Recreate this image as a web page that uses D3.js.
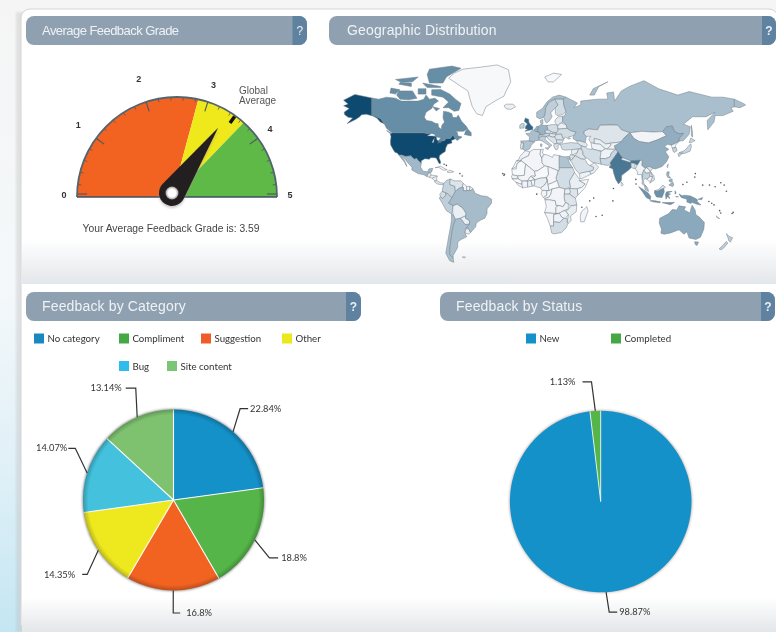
<!DOCTYPE html>
<html><head><meta charset="utf-8">
<script src="https://cdn.jsdelivr.net/npm/d3@7/dist/d3.min.js"></script>
<style>html,body{margin:0;padding:0;background:#f4f4f4;overflow:hidden}svg{display:block;filter:blur(.35px)}</style>
</head><body><svg id="c" width="776" height="632"></svg>
<script>
// ---------- DATA ----------
const panelTitles = ["Average Feedback Grade","Geographic Distribution","Feedback by Category","Feedback by Status"];
const gaugeTicks = [0,1,2,3,4,5];
const gaugeBandEdges = [0,2.92,3.72,5];
const gaugeBandColors = ["#f26322","#efe81a","#5fb946"];
const feedbackGrade = 3.59;
const globalAverage = 3.49;
const categoryNames = ["No category","Compliment","Suggestion","Other","Bug","Site content"];
const categoryValues = [22.84,18.8,16.8,14.35,14.07,13.14];
const categoryColors = ["#1591c9","#55b548","#f26322","#eee81f","#44c2dd","#7ec26f"];
const categoryLegendColors = ["#1a88c0","#45a844","#f15a29","#ebe81c","#2fbcec","#7cc576"];
const statusNames = ["New","Completed"];
const statusLabels = [98.87,1.13];
const statusDrawnShare = [98.11,1.89];
const statusColors = ["#1591c9","#55b548"];
const countryNames = ["USA","Alaska","Canada","Baffin","Victoria","Banks","Ellesmere","Devon","Melville","Somerset","QueenE","Newfoundland","Southampton","Vancouver","Greenland","Iceland","Mexico","Baja","Guatemala","Honduras","Nicaragua","Panama","Cuba","Hispaniola","Colombia","Venezuela","Guyana","Suriname","FrGuiana","Ecuador","Peru","Bolivia","Paraguay","Chile","Argentina","Uruguay","Brazil","Falkland","Morocco","WSahara","Algeria","Tunisia","Libya","Egypt","Sudan","Mauritania","Mali","Niger","Chad","Senegal","Guinea","Liberia","IvoryCoast","Burkina","Ghana","Benin","Nigeria","Cameroon","CAR","Gabon","Congo","DRC","Uganda","Kenya","Ethiopia","Somalia","Tanzania","Angola","Zambia","Mozambique","Zimbabwe","Namibia","Botswana","SouthAfrica","Madagascar","Portugal","Spain","France","Benelux","Germany","Denmark","UK","Ireland","Italy","Sicily","Sardinia","Austria","Czech","Poland","Hungary","Balkans","Romania","Bulgaria","Greece","Belarus","Ukraine","Baltics","Norway","Sweden","Finland","Russia","Chukotka","Sakhalin","NovayaZemlya","Svalbard","Kazakhstan","Mongolia","China","NKorea","SKorea","Honshu","Hokkaido","Kyushu","Taiwan","Turkmenistan","Uzbekistan","Kyrgyzstan","Afghanistan","Pakistan","India","Nepal","Bangladesh","SriLanka","Burma","Thailand","Laos","Vietnam","Cambodia","Malaya","Sarawak","Kalimantan","Sumatra","Java","Sulawesi","Sunda","Moluccas","Seram","WPapua","PNG","NewBritain","Luzon","Mindanao","Visayas","Turkey","Caucasus","Syria","Iraq","Iran","Jordan","Saudi","Yemen","Oman","Australia","Tasmania","NZNorth","NZSouth","NewCaledonia"];
const countryShades = [1,1,.62,.62,.62,.62,.62,.62,.62,.62,.62,.62,.62,.62,0,.05,.35,.35,.05,.05,.05,.1,.02,.05,.2,.1,.02,.02,.02,.15,.22,.05,.05,.3,.3,.05,.32,0,.03,0,.02,.02,.03,.28,.14,0,.02,0,.02,.03,0,0,.03,0,.05,0,.06,.03,0,.02,0,.02,.06,.1,.05,0,.1,.02,.03,.06,.03,.02,.03,.14,.02,.1,.28,.3,.4,.38,.25,.85,.2,.22,.22,.22,.18,.12,.14,.1,.1,.12,.1,.12,.05,.15,.08,.3,.22,.15,.3,.3,.3,.3,0,.1,.02,.42,0,.2,.18,.18,.18,.12,.03,.05,.02,.03,.17,.75,.03,.12,.05,.03,.2,.02,.1,.02,.3,.12,.6,.6,.6,.6,.6,.6,.6,.55,.55,.55,.35,.35,.35,.15,.08,.05,.1,.14,.12,.12,.03,.06,.45,.45,.22,.22,.05];
const countryOutlines = [
"-124.7,48.4 -123,49 -95,49 -89.5,48 -84.5,46.5 -82.5,45.3 -82.4,43 -79,43.2 -76.5,44 -75,45 -71.5,45 -69.2,47.4 -67.8,45.7 -67,44.8 -70.5,43.5 -70,41.7 -74,40.7 -75.5,38 -76,35.2 -78.5,33.8 -81,32 -81.4,30 -80,26.8 -80.5,25.2 -81.8,26 -82.8,28 -84,30 -86,30.3 -89,30.3 -90,29.1 -94,29.5 -97.2,27.8 -97.2,25.9 -99.5,27.5 -101.5,29.8 -103,29 -104.7,30 -106.5,31.8 -111,31.3 -114.8,32.5 -117.1,32.5 -118.5,34 -120.6,34.6 -122.4,37.2 -124.3,40.3 -124.5,43 -124,46.3",
"-156,71.3 -166,68.5 -162,66.5 -166,65.5 -161,64 -165.5,62 -165,60.5 -162,59 -158,58.5 -163,55 -155,57.8 -152,59.2 -150,60.5 -146,60.8 -140,59.8 -136.5,58.5 -133.5,56 -130,55 -133,58 -137,59.5 -141,60.3 -141,69.6",
"-141,69.6 -135,69 -128,70 -120,69.5 -115,68 -108,68 -100,68 -95,69 -93,71 -90,69 -85,69.5 -82,68 -86,66.5 -88,64 -93,62 -94.5,59 -92.5,57 -88,56.5 -85,55.3 -82.3,55 -82,52.8 -79.5,51.3 -79,54 -76.7,56 -78,58.7 -77.5,62.5 -73,62 -70,61 -69.5,59 -66,58.8 -64.5,60.3 -61.5,56.5 -57,53 -56,51.5 -60,50 -66.5,50 -65,48.8 -65,47 -61,46 -65.5,43.5 -67,44.8 -67.8,45.7 -69.2,47.4 -71.5,45 -75,45 -76.5,44 -79,43.2 -82.4,43 -82.5,45.3 -84.5,46.5 -89.5,48 -95,49 -123,49 -125,50 -128,52 -130,55 -133,58 -137,59.5 -141,60.3",
"-80,73.7 -72,71.5 -67,69 -62,66.8 -64,63 -68,62.5 -73,64.5 -78,64.5 -73,67.5 -78,70 -88,71 -88,73.5",
"-117,73 -105,73 -101,69.5 -108,68.7 -116,69 -119,71",
"-125,72 -124,74.3 -116,73.5 -120,71.5",
"-90,76.5 -78,76.5 -75,79 -62,82.3 -70,83.1 -90,82 -92,80",
"-96,76.5 -80,75 -80,74.5 -92,74.5",
"-117,76 -106,75 -106,76.5 -116,76.7",
"-100,74 -93,74 -93,71.5 -100,71.5",
"-120,78 -110,78.5 -100,79 -105,77 -115,76.8",
"-59,47.8 -53,46.8 -53,49 -56,51.5 -58,50",
"-87,65 -81,64 -84,62.7",
"-128,50.5 -123.5,48.5 -125,48.7",
"-73,78.5 -68,80.5 -60,82 -45,82.7 -30,83.5 -20,81.8 -18,77 -22,73 -24,70.5 -32,68 -40,65 -43,60 -48,61 -52,65 -54,69 -56,73 -65,76",
"-24,65.5 -22,66.4 -16,66.4 -13.7,65 -18,63.5 -22,63.9",
"-114.8,32.5 -111,31.3 -106.5,31.8 -104.7,30 -103,29 -101.5,29.8 -99.5,27.5 -97.2,25.9 -97.8,22.5 -95.5,19 -91.5,18.5 -90.5,21 -87,21.5 -88,18.5 -89,17.8 -91,17.2 -92.2,14.5 -95,16 -100,17 -105.5,20 -105.5,22.5 -109.5,26.5 -112.5,30",
"-117.1,32.5 -115,30 -112,26.5 -110,23 -111,26 -113.5,30 -114.7,31.7",
"-92.2,14.5 -91,17.2 -89,17.8 -88.5,15.8 -90,13.8",
"-88.5,15.8 -83.2,15 -84.5,13 -87.5,13 -90,13.8",
"-83.2,15 -83.7,11 -85.7,11 -87.5,13",
"-83.7,11 -80,9 -77.3,8.6 -78,7.3 -80.5,7.5 -83,8 -85.7,10",
"-85,22 -80,23.2 -74.2,20.2 -77.7,19.9 -82,22.5",
"-74.4,18.4 -72,20 -68.4,18.6 -71.5,17.8",
"-77.3,8.6 -75,11 -71.5,12.4 -72,7.5 -67.5,6 -67,1.5 -70,-4.2 -74,-0.5 -78.8,1.4",
"-71.5,12.4 -68,10.7 -62,10.7 -60,8.5 -61,5 -64,4 -67,1.5 -67.5,6 -72,7.5",
"-60,8.5 -57,6 -57,2 -60,2 -60,5 -61,5",
"-57,6 -54,5.8 -54.5,2.3 -57,2",
"-54,5.8 -51.7,4 -53,2.2 -54.5,2.3",
"-78.8,1.4 -75.3,0 -75.5,-2 -78.3,-5 -80.3,-3.4 -80.8,-1",
"-81.3,-4.5 -80.3,-3.4 -78.3,-5 -75.5,-2 -75.3,0 -74,-0.5 -70,-4.2 -73,-9 -69,-11 -69.5,-16 -70.4,-18.3 -75,-15.5 -78,-10",
"-69,-11 -65.3,-9.8 -60.2,-13.5 -57.5,-18 -58,-20 -62.5,-22 -67,-23 -69,-19 -69.5,-16",
"-58,-20 -58,-22 -54.5,-24 -54.6,-27 -58.5,-27.2 -62.5,-22",
"-70.4,-18.3 -69,-19 -67,-23 -68.5,-27 -70,-33 -71,-40 -71.8,-45 -72,-50 -69,-52 -68.5,-55 -72,-54 -75.5,-49 -74,-42 -73,-37 -71.5,-30 -70.5,-24",
"-67,-23 -62.5,-22 -58.5,-27.2 -54.6,-27 -58,-31 -58.4,-34 -57,-37 -62,-39 -65,-41 -65,-45 -69,-50.5 -69,-52 -72,-50 -71.8,-45 -71,-40 -70,-33 -68.5,-27",
"-58,-31 -55.5,-30.5 -53.5,-33.7 -55,-35 -58.4,-34",
"-60,5 -60,2 -57,2 -54.5,2.3 -53,2.2 -51.7,4 -50,1 -50,0 -44,-2.5 -39,-3 -35,-5.5 -35,-9 -39,-14 -39,-18 -41,-22 -45,-23.7 -48.5,-26 -49,-29 -53.5,-33.7 -55.5,-30.5 -57.6,-30 -54.6,-27 -54.5,-24 -58,-22 -58,-20 -57.5,-18 -60.2,-13.5 -65.3,-9.8 -69,-11 -73,-9 -70,-4.2 -67,1.5 -64,4 -61,5",
"-61,-51.5 -58,-51.5 -59,-52.3",
"-13,27.7 -8.7,27.7 -8.7,29 -2,32 -1.2,35 -5.5,35.9 -7,34 -9.8,31.5 -11,28.7",
"-13,27.7 -8.7,27.7 -12,26 -13,23 -17,21 -15,24",
"-8.7,27.7 -8.7,29 -2,32 -1.2,35 2,36.8 8.6,36.9 8,33 9.5,30 9.8,26 12,23.5 6,19.5 3,19 -4.8,25",
"8.6,36.9 11,37 10,34 11.5,33 9.5,30 8,33",
"11.5,33 15,32.3 19,30.5 20,32.8 25,32 25,20 24,19.5 15,23 12,23.5 9.8,26 9.5,30",
"25,32 29,31 34.2,31.3 35,28 32.5,30 34,26 36.9,22 25,22",
"25,22 36.9,22 38.5,18 36.5,14.5 34,10.5 35,5 30,3.5 25,5 23.5,9 22,13 24,19.5 25,20",
"-17,21 -13,21 -13,23 -12,26 -8.7,27.7 -4.8,25 -6,15.5 -12,15 -16.5,16",
"-4.8,25 3,19 4,15 0,15 -3,11 -8,10.5 -11.5,12.5 -12,15 -6,15.5",
"3,19 6,19.5 12,23.5 15,23 15.5,16 13.5,13.5 8,13 3.5,11.7 1,13.5 4,15",
"15,23 24,19.5 22,13 23,11 19,9 15,7.5 13.5,13.5 15.5,16",
"-16.5,16 -12,15 -11.5,12.5 -16.8,12.5 -17.3,14.7",
"-16.8,12.5 -11.5,12.5 -8,10.5 -8,7.7 -10.5,8.3 -13.3,9.5",
"-13.3,9.5 -10.5,8.3 -8,7.7 -7.5,4.5 -11.5,6.9",
"-8,10.5 -3,10.5 -3,5.2 -7.5,4.5 -8,7.7",
"-3,10.5 -3,11 0,15 1,13.5 3.5,11.7 0,11",
"-3,10.5 0,11 1.2,6 -3,5.2",
"0,11 3.5,11.7 2.7,6.3 1.2,6",
"2.7,6.3 3.5,11.7 8,13 13.5,13.5 14.5,11 12,7 8.5,4.5 5,5.5",
"8.5,4.5 12,7 14.5,11 13.5,13.5 15,7.5 16,2 9.8,2.3",
"15,7.5 19,9 23,11 25,5 18.5,3.5 16,2",
"9.8,2.3 14,2.2 14,-2 11,-4 8.8,-1",
"14,2.2 16,2 18.5,3.5 17.5,-1 16,-3.5 12,-5 11,-4 14,-2",
"18.5,3.5 25,5 30,3.5 29.5,-1 29.5,-5 30.5,-8.5 28.5,-12 24,-11 22,-11 21.5,-7 16,-6 12.3,-6 12,-5 16,-3.5 17.5,-1",
"30,3.5 34,4 35,1 34,-1 29.5,-1",
"34,4 41,3.8 41.5,-1.7 39.3,-4.7 34,-1 35,1",
"36.5,14.5 38.5,18 43,12 42.5,11 48,8 45,5 41,3.8 34,4 35,5 34,10.5",
"43,11 51,12 48,5 42,-1.5 41.5,-1.7 41,3.8 45,5 48,8",
"29.5,-1 34,-1 39.3,-4.7 40.5,-10.5 35,-11.5 32,-9 30.5,-8.5 29.5,-5",
"12.3,-6 16,-6 21.5,-7 22,-11 24,-11 22,-13 22,-18 12,-17.3 13.5,-12",
"22,-13 24,-11 28.5,-12 30.5,-8.5 33,-9.5 33,-14 28,-16 25,-17.8 22,-18",
"40.5,-10.5 35,-11.5 33,-14.5 30.5,-15.5 33,-19 32,-25.5 33,-26 35.5,-24 35,-20 40,-16.5",
"25,-17.8 28,-16 30.5,-15.5 33,-19 30,-22.3 27,-21",
"12,-17.3 22,-18 25,-17.8 20,-19 20,-28.5 17,-28.5 14.5,-22",
"20,-19 25,-17.8 27,-21 29,-22 25.5,-25.5 20,-25",
"17,-28.5 20,-28.5 20,-25 25.5,-25.5 29,-22 32,-22.3 32,-25.5 33,-26 31,-30 27,-33.7 20,-34.8 18.3,-34",
"49.5,-12 50.5,-16 47,-25 44,-25 43.5,-21 44.5,-16.5",
"-9.5,38.8 -8.8,42 -6.5,41.8 -7.3,37.2 -9,37",
"-8.8,42 -9.2,43.2 -2,43.4 3,42.4 0,40 -0.5,38.5 -2,36.8 -5.5,36 -7.3,37.2 -6.5,41.8",
"-1.8,43.4 -1.2,46 -4.7,48.4 -1.5,48.7 1.5,50.9 4.2,50 8,49 7.5,47.5 6.5,46 7.5,43.8 3,43.2 3,42.4",
"2.5,51 4,52 5,53.3 7,53.3 6,51 6,49.6 4.2,50",
"7,53.3 9,54.8 11,54 14.2,53.8 15,51 12.2,50.3 13.5,48.6 10,47.5 7.5,47.5 8,49 6,49.6 6,51",
"8.3,55.5 8.3,57 10.5,57.7 10.5,55",
"-5.5,50 1.4,51.2 1.7,52.8 -0.2,54 -2,56 -2,57.6 -5,58.6 -6,56.5 -3.2,54.8 -4.8,53.3 -5,51.7 -3,51.3",
"-10,52 -6.2,52.2 -6,55 -8.3,55.2 -10,54",
"7.5,43.8 7,45.8 10.5,46.8 13.7,46.5 12.3,44.5 16,41.7 18.5,40 17,39 16,38 15.7,40 12.2,41.8 10.2,43",
"12.5,38 15.6,38.2 15,36.7",
"8.3,41 9.8,41 9.5,39 8.5,39",
"7.5,47.5 10,47.5 13.5,48.6 17,48.7 16,46.8 13.7,46.5 10.5,46.8 7,45.8 6.5,46",
"12.2,50.3 15,51 19,49.5 22.5,49 21,48 17,48.7 13.5,48.6",
"14.2,53.8 19,54.5 23,54.3 24,50.7 22.5,49 19,49.5 15,51",
"17,48.7 21,48 22.5,48 21,46.2 18.8,45.9 16,46.8",
"13.7,46.5 16,46.8 18.8,45.9 21,46.2 22.5,44 23,41.3 20.5,41 19.3,42 15,44.8",
"21,46.2 22.5,48 27,48.2 28.2,45.3 29.5,45 28.5,43.8 22.5,44",
"22.5,44 28.5,43.8 27.8,42 23,41.3",
"20.5,41 23,41.3 26.3,41 24,40 24,38 23,36.5 21.5,37 20,39.5",
"23.5,53.5 26,55.5 31,54.5 32,52 24,51.5",
"24,50.7 24,51.5 32,52 35,50.5 40,49.5 38,47 33,46 35,45 33.5,44.5 30.5,46 29.5,45 28.2,45.3 27,48.2 22.5,48 22.5,49",
"21,56 21.5,57.5 24,59.3 28,59.5 28,56 26,55.5 23.5,53.5 23,54.3",
"5,59 5,62 10,64 14,67.5 19,70 25,71 31,70 28.5,69 21,69 16,67.5 13,64.5 12.5,61 11.3,59 8,58",
"11.3,59 12.5,61 13,64.5 16,67.5 21,69 24,66 21.5,64.5 17.3,61.5 18.7,59.5 16.5,57 14,55.5 12.8,56",
"21,69 28.5,69 29,66 31,62.5 28,60.5 23,60 21.5,61 21.5,64.5 24,66",
"31,70 41,67 38,64.5 44,66 44,68 54,68.7 60,69 68,69 67,72 73,72.5 74,68 80,73 87,75 100,77.5 113,74 130,71 140,72.7 160,70 170,70 180,69 180,65 177,64.5 179,62.5 170,60 163,60 162,56 156.5,51 156,57 163,62 155,59.3 143,59.3 135,54.7 141,53 140,48 135,43.5 131,43 131,45 135,48.4 130.5,48.5 127,50 125,53.5 120,53 116.5,49.8 108,49.5 98,50 87.5,49 80,51 77,54 71,54.2 61,54 59,51 51,51.5 47,50 47,48 49,46.5 48,42 44,43 40,43.5 37,45 38,47 40,49.5 35,50.5 32,52 31,54.5 28,56 28,59.5 30,60 31,62.5 29,66 28.5,69",
"-180,69 -172,66.8 -170,66 -175,64.5 -180,65",
"142,54 143,49 143,46 142,47",
"52,71 55,74 68,77 60,75 56,71",
"12,79 20,80.5 27,80 20,77 15,77",
"49,46.5 53,46.5 51,44.5 53,42 56,41.3 56,45 61,44 66,41 70,41.5 80,42.5 82.5,45.5 87.5,49 80,51 77,54 71,54.2 61,54 59,51 51,51.5 47,50 47,48",
"87.5,49 98,50 108,49.5 116.5,49.8 120,47 112,44 104,41.7 96,42.7 91,45",
"73.5,39.5 80,42.5 82.5,45.5 87.5,49 91,45 96,42.7 104,41.7 112,44 120,47 116.5,49.8 120,53 125,53.5 127,50 130.5,48.5 135,48.4 131,45 131,43 128,41.5 124.3,40 121,40.8 118,39 122,37 119,35 122,31 120,27 116,23 110,21 108,21.5 105,23 101.5,21.2 98,24 98.5,28 92,28 88,27.8 81,30.3 78.5,32.5 75,37",
"124.3,40 128,41.5 130.5,42.5 127.5,39.5 128.3,38.5 125,37.8",
"125,37.8 128.3,38.5 129.4,36 127,34.5 126,35",
"131,34.3 136,36 140,40 141.5,41 142,39 140.8,35.5 136,33.7",
"140,42 141.5,45.4 145.3,43.5 142,42",
"130,33.5 132,33.5 134.5,34 133,33 131,31",
"120.2,23 121.5,25.2 121,22",
"53,42 56,41.3 61,41 66,37.3 62,35.3 54,37.3",
"56,41.3 56,45 61,44 66,41 70,41.5 71,40 67.5,37.3 66,37.3 61,41",
"70,41.5 80,42.5 73.5,39.5 75,37 68,37 67.5,37.3 71,40",
"61,36 62,35.3 66,37.3 68,37 75,37 71,34 70,31 66,29.5 61,29.7",
"61,29.7 66,29.5 70,31 71,34 75,37 77,34.5 74,31 70,26 71,24.3 67,24 62,25",
"77,35 79,32.5 81,30.3 80,28.8 88,26.5 88,27.8 92,28 97,28.3 94,24 91.8,25.5 88.5,26 88.5,22 86.5,20 80.3,15.5 80,11 77.5,8 75,12 73,18 72.5,21 69,22.5 71,24.3 70,26 74,31",
"81,30.3 88,27.8 88,26.5 80,28.8",
"88.5,26 91.8,25.5 92.3,21 89,22",
"80,9.7 81.8,7.3 80.5,6 79.8,7.5",
"92.3,21 94,24 97,28.3 98.5,28 98,24 101.5,21.2 99,18 98.5,12 97.7,16.5 94.5,16 94,19",
"99,18 100,20.3 101.5,17.5 105,18 105.5,14.5 102.5,12 101,13 99.5,11 100,8 102,6 100.5,6.5 98.3,8 98.5,12",
"101.5,21.2 102,22.4 105,20 107,16 107.5,14.5 105.5,14.5 105,18 101.5,17.5 100,20.3",
"102,22.4 105,23 108,21.5 105.7,19 108.8,15 109.3,11.5 105,8.7 106.5,11 107.5,14.5 107,16 105,20",
"102.5,12 105.5,14.5 107.5,14.5 106.5,11 104.5,10.3",
"100.5,6.5 102,6 103.5,4 104,1.4 101,3",
"109.5,2 113,3.2 116.8,7 119,5 117.5,4 115,3 112,1.5",
"109.5,2 112,1.5 115,3 117.5,4 118,1 116,-4 111,-3.5 109.2,0",
"95.3,5.6 98,4 103.8,0 106,-3 105.7,-5.9 102,-4 98.7,1",
"105.2,-6.8 108.5,-6.7 114.5,-7.7 114.3,-8.7 108,-7.8",
"119.5,-5.5 119,-1 120,1 125,1.5 121,0 123.5,-1 121.5,-2 123,-5 120.8,-3",
"116,-8.5 123,-8.5 127,-8.3 123.5,-10.3 118,-9",
"127.5,2 128.5,0 127.5,-1",
"128,-3 130.5,-3.3 129,-3.6",
"131,-0.8 134,-2.5 136,-2 141,-2.6 141,-9.1 138,-8 138,-5.5 133,-4",
"141,-2.6 145,-4.5 147.5,-6 147,-7.5 150.5,-10.5 147,-10 143,-8.5 141,-9.1",
"148,-5.5 152,-4 151,-6",
"120.5,18.5 122.3,18.5 122,15 124,13 121,13.8 120,16",
"122,7 125.5,9.7 126.5,7 125.3,5.7",
"122,11.5 125,12.3 125,10 123,9.7",
"26.3,41 29,41.2 35,42 41.5,41.5 44.5,39.7 44.5,37.2 36,36.7 30.5,36.3 27.5,37 26.3,39.5",
"40,43.5 44,43 48,42 50,40.4 48.5,38.5 44.5,39.7 41.5,41.5",
"36,36.7 42,37.2 41,34.4 36.5,32.5 35.7,34.5",
"42,37.2 44.5,37.2 46,35 46,33 48.5,30 47.7,29 44.5,29.2 39,32 41,34.4",
"44.5,39.7 48.5,38.5 50,37.4 54,36.8 54,37.3 62,35.3 61,29.7 62,25 57,26 54,26.7 50,29.8 48.5,30 46,33 46,35 44.5,37.2",
"34.2,31.3 35,33 36.5,32.5 39,32 37,29.5 35,28",
"35,28 37,29.5 39,32 44.5,29.2 47.7,29 48.5,28 50,25 52,24 55.5,22.5 55,20 52,19 44,17.5 43,16.5 39,21 36,26.5",
"43,16.5 44,17.5 52,19 53,16.5 45,12.7 43.3,12.8",
"52,24 56.3,26 59.8,22.5 55.5,17.5 53,16.5 52,19 55,20 55.5,22.5",
"114,-22 113.5,-26 115.5,-31 115,-34.3 118,-35 123.5,-34 131,-31.5 135.5,-35 138,-33 140,-38 146,-39 150,-37.3 153,-31 153.5,-25.5 149,-21 146,-19 145.3,-15 142.7,-10.8 141.5,-14 140.8,-17.5 135.5,-15 136.8,-12.2 131,-11.3 129,-15 125,-14.5 122,-18",
"144.8,-40.8 148.3,-41 147,-43.5 145.5,-42.8",
"173,-34.5 175.5,-36.8 178.5,-37.7 176.5,-41 175,-40 174.5,-38",
"172.7,-40.6 174.3,-41.7 171,-45 168.5,-46.6 166.5,-46 170.5,-43",
"164,-20 167,-22.3 165,-21.8"
];
const lakeOutlines = ["-92,46.8 -88,48.5 -85,47.8 -85,46.6 -88,46.8","-87.8,42 -85.5,45.5 -86.3,42","-84,46 -80,45.5 -81.8,43.3 -83.5,44","-83,41.6 -79,42.8 -79.5,42.5","-79.5,43.5 -76.5,43.6 -76.5,44"];
const smallIslands = ["-75,24","-77,25","-61,15","-63,17","-24,15.5","-23.5,16.5","-25,17","5,-1","55.5,-4.5","57.5,-20.5","45,-12.5","63,-19.5","52,-7","73,4","72.5,-7","92.8,12","93,8","134.5,7.5","138,9.5","145,14","145.5,17","152,7","158,7","163,5.5","168,9","171,7","173,1.5","157.5,-7.5","160,-9","162,-10.5","167,-15.5","168,-17.5","178,-18","179,-17"];
// ---------- LAYOUT ----------
const svg = d3.select("#c");
const defs = svg.append("defs");
const FONT = "'Liberation Sans',Arial,sans-serif", LABELFONT = "Lato,'Open Sans',sans-serif";
function grad(id,x2,y2,stops){const g=defs.append("linearGradient").attr("id",id).attr("x1",0).attr("y1",0).attr("x2",x2).attr("y2",y2);
  stops.forEach(s=>g.append("stop").attr("offset",s[0]).attr("stop-color",s[1]));}
grad("bgLeft",0,1,[[0,"#f5f5f5"],[.45,"#f4f8fa"],[.75,"#dff0f7"],[1,"#c4e6f3"]]);
grad("band",0,1,[[0,"#ffffff"],[1,"#e3e6ea"]]);
const soft=defs.append("filter").attr("id","soft").attr("x","-20%").attr("y","-20%").attr("width","140%").attr("height","140%");
soft.append("feGaussianBlur").attr("stdDeviation",1.3);
const rim=defs.append("radialGradient").attr("id","rim");
[[0,"#000",0],[.94,"#000",0],[1,"#000",.22]].forEach(s=>rim.append("stop").attr("offset",s[0]).attr("stop-color",s[1]).attr("stop-opacity",s[2]));
const hubG=defs.append("radialGradient").attr("id","hubG");
[[0,"#fff"],[.6,"#fff"],[1,"#9a9a9a"]].forEach(s=>hubG.append("stop").attr("offset",s[0]).attr("stop-color",s[1]));

svg.append("rect").attr("width",776).attr("height",632).attr("fill","#f5f5f5");
svg.append("rect").attr("width",24).attr("height",632).attr("fill","url(#bgLeft)");
svg.append("rect").attr("x",16).attr("y",12).attr("width",8).attr("height",620).attr("fill","#bbb").attr("opacity",.35).attr("filter","url(#soft)");
svg.append("rect").attr("x",21).attr("y",9).attr("width",757).attr("height",624).attr("rx",9).attr("fill","#fff").attr("stroke","#d6d4d2");
svg.append("rect").attr("x",22).attr("y",240).attr("width",754).attr("height",44).attr("fill","url(#band)");
svg.append("rect").attr("x",22).attr("y",597).attr("width",754).attr("height",35).attr("fill","url(#band)");

// Headers
const headerBoxes=[[26,16,281,29,14.5],[329,16,447,29,14],[26,292,335,29,15],[440,292,335,29,14]];
panelTitles.forEach((t,i)=>{const [x,y,w,h,q]=headerBoxes[i];
  const g=svg.append("g");
  g.append("rect").attr("x",x).attr("y",y).attr("width",w).attr("height",h).attr("rx",8).attr("fill","#8fa1b1");
  const cid="hc"+i; defs.append("clipPath").attr("id",cid).append("rect").attr("x",x+w-q).attr("y",y).attr("width",q).attr("height",h);
  g.append("rect").attr("x",x).attr("y",y).attr("width",w).attr("height",h).attr("rx",8).attr("fill","#5f82a0").attr("clip-path",`url(#${cid})`);
  g.append("text").attr("x",x+w-q/2).attr("y",y+h/2+4.5).attr("text-anchor","middle").attr("fill","#e8eef3").attr("font-family",FONT).attr("font-size",12).attr("font-weight",i==0?400:700).text("?");
  g.append("text").attr("x",x+(i==0?16:i==1?18:16)).attr("y",y+h/2+4.7).attr("fill","#eef2f5").attr("font-family",FONT).attr("font-size",i==0?13:14).attr("letter-spacing",i==0?-.55:.15).text(t);
});

// Gauge
const G={x:177,y:197,r:100}, H={x:172,y:193}, hubBase={x:172,y:197};
const gaugeAngle=d3.scaleLinear().domain([0,5]).range([-Math.PI/2,Math.PI/2]);
const gauge=svg.append("g");
const half=d3.arc().innerRadius(0).outerRadius(G.r).startAngle(gaugeAngle(0)).endAngle(gaugeAngle(5));
defs.append("clipPath").attr("id","gclip").append("path").attr("d",half()).attr("transform",`translate(${G.x},${G.y})`);
const bandLayer=gauge.append("g").attr("clip-path","url(#gclip)");
gaugeBandColors.forEach((c,i)=>{
  bandLayer.append("path").attr("transform",`translate(${hubBase.x},${hubBase.y})`).attr("fill",c)
    .attr("d",d3.arc().innerRadius(0).outerRadius(140).startAngle(gaugeAngle(gaugeBandEdges[i])).endAngle(gaugeAngle(gaugeBandEdges[i+1]))());
});
const polar=(a,r)=>[G.x+r*Math.sin(a),G.y-r*Math.cos(a)];
d3.range(0,5.001,0.2).forEach(v=>{const a=gaugeAngle(v),maj=Math.abs(v-Math.round(v))<.001,lift=(v<.01||v>4.99)?3:0;
  const p=polar(a,G.r),q=polar(a,G.r-(maj?10:3.5));
  gauge.append("line").attr("x1",p[0]).attr("y1",p[1]-lift).attr("x2",q[0]).attr("y2",q[1]-lift).attr("stroke","#4a5763").attr("stroke-width",maj?1.1:.8);});
gauge.append("path").attr("transform",`translate(${G.x},${G.y})`).attr("fill","none").attr("stroke","#54646f").attr("stroke-width",1.8)
  .attr("d",d3.arc().innerRadius(G.r).outerRadius(G.r).startAngle(gaugeAngle(0)).endAngle(gaugeAngle(5))());
gauge.append("line").attr("x1",G.x-G.r).attr("x2",G.x+G.r).attr("y1",G.y).attr("y2",G.y).attr("stroke","#3f5062").attr("stroke-width",1.3);
const labelR=[113,122,124,118,115,113];
gaugeTicks.forEach((t,i)=>{const p=polar(gaugeAngle(t),labelR[i]);
  gauge.append("text").attr("x",p[0]).attr("y",p[1]+ (i==0||i==5?1:3)).attr("text-anchor","middle").attr("font-family",FONT).attr("font-size",9).attr("font-weight",700).attr("fill","#333").text(t);});
// global average marker
const ga=gaugeAngle(globalAverage),m1=polar(ga,99),m2=polar(ga,91);
gauge.append("line").attr("x1",m1[0]).attr("y1",m1[1]).attr("x2",m2[0]).attr("y2",m2[1]).attr("stroke","#111").attr("stroke-width",3.5);
gauge.append("text").attr("x",239).attr("y",94).attr("font-family",FONT).attr("font-size",10).attr("fill","#555").text("Global");
gauge.append("text").attr("x",239).attr("y",104).attr("font-family",FONT).attr("font-size",10).attr("fill","#555").text("Average");
// needle
const needleTilt=-4, needleLen=80, hubR=13, th=Math.acos(hubR/needleLen);
const np=d3.path(); np.moveTo(0,-needleLen); np.arc(0,0,hubR,-Math.PI/2+th,-Math.PI/2-th+2*Math.PI); np.closePath();
gauge.append("path").attr("d",np.toString()).attr("transform",`translate(${H.x},${H.y+2}) rotate(${gaugeAngle(feedbackGrade)*180/Math.PI+needleTilt})`).attr("fill","#999").attr("opacity",.5).attr("filter","url(#soft)");
gauge.append("path").attr("d",np.toString()).attr("transform",`translate(${H.x},${H.y}) rotate(${gaugeAngle(feedbackGrade)*180/Math.PI+needleTilt})`).attr("fill","#231f20");
gauge.append("circle").attr("cx",H.x).attr("cy",H.y).attr("r",6.5).attr("fill","url(#hubG)");
svg.append("text").attr("x",171).attr("y",232).attr("text-anchor","middle").attr("font-family",FONT).attr("font-size",10.3).attr("fill","#444").text(`Your Average Feedback Grade is: ${feedbackGrade}`);

// Map (Miller projection)
const miller=d3.geoProjection((l,p)=>[l,1.25*Math.log(Math.tan(Math.PI/4+.4*p))]).scale(64.7).rotate([-12,0]).translate([544.6,193]).precision(0);
const shade=d3.scaleLinear().domain([0,.3,.6,1]).range(["#f7f8fa","#aabfcd","#6c92aa","#0e4a70"]);
const pts=s=>s.split(" ").map(q=>miller(q.split(",").map(Number)));
const line=d3.line().curve(d3.curveLinearClosed);
const map=svg.append("g");
map.selectAll("path.c").data(countryNames).join("path").attr("class","c")
  .attr("d",(n,i)=>line(pts(countryOutlines[i]))).attr("fill",(n,i)=>shade(countryShades[i]))
  .attr("stroke","#707e88").attr("stroke-width",.5).attr("stroke-linejoin","round");
map.selectAll("path.l").data(lakeOutlines).join("path").attr("class","l").attr("d",s=>line(pts(s))).attr("fill","#fff").attr("stroke","#5f7484").attr("stroke-width",.4);
map.selectAll("circle").data(smallIslands).join("circle").each(function(s){const p=pts(s)[0];d3.select(this).attr("cx",p[0]).attr("cy",p[1]);}).attr("r",.8).attr("fill","#556");

// Legends
const legendItems=[
 {s:34,y:338.5,t:categoryNames[0],c:categoryLegendColors[0]},{s:119,y:338.5,t:categoryNames[1],c:categoryLegendColors[1]},{s:201,y:338.5,t:categoryNames[2],c:categoryLegendColors[2]},{s:282,y:338.5,t:categoryNames[3],c:categoryLegendColors[3]},
 {s:119,y:366,t:categoryNames[4],c:categoryLegendColors[4]},{s:167,y:366,t:categoryNames[5],c:categoryLegendColors[5]},
 {s:526,y:338.5,t:statusNames[0],c:statusColors[0]},{s:611,y:338.5,t:statusNames[1],c:"#45a844"}];
legendItems.forEach(d=>{
 svg.append("rect").attr("x",d.s).attr("y",d.y-5).attr("width",10).attr("height",10).attr("fill",d.c);
 svg.append("text").attr("x",d.s+13.5).attr("y",d.y+3.5).attr("font-family",LABELFONT).attr("font-size",9.7).attr("fill","#333").text(d.t);});

// Pies
function drawPie(cx,cy,r,shares,labels,cols,o){
 const pie=d3.pie().sort(null).value(d=>d);
 const arcs=pie(shares), arc=d3.arc().innerRadius(0).outerRadius(r);
 const g=svg.append("g").attr("transform",`translate(${cx},${cy})`);
 g.append("circle").attr("r",r+.8).attr("fill",o.shadow).attr("opacity",o.shadowOp).attr("filter","url(#soft)");
 g.selectAll("path.s").data(arcs).join("path").attr("class","s").attr("d",arc).attr("fill",(d,i)=>cols[i]);
 g.selectAll("line.sep").data(arcs).join("line").attr("class","sep").attr("x2",d=>r*Math.sin(d.endAngle)).attr("y2",d=>-r*Math.cos(d.endAngle)).attr("stroke","#fff").attr("stroke-width",o.sepW);
 if(o.rim) g.append("circle").attr("r",r).attr("fill","url(#rim)");
 arcs.forEach((d,i)=>{const m=(d.startAngle+d.endAngle)/2;
   const a=[r*Math.sin(m),-r*Math.cos(m)], em=m+o.turn[i]*Math.PI/180,
     e=[o.elbowR[i]*Math.sin(em),-o.elbowR[i]*Math.cos(em)], side=o.side[i],
     t=[e[0]+side*o.lead[i],e[1]];
   g.append("path").attr("d",d3.line()([a,e,t])).attr("fill","none").attr("stroke","#333").attr("stroke-width",1.2);
   g.append("text").attr("x",t[0]+side*o.gap[i]).attr("y",t[1]+3.2).attr("text-anchor",side>0?"start":"end").attr("font-family",LABELFONT).attr("font-size",9.3).attr("fill","#333").text(labels[i]+"%");
 });
}
drawPie(173.5,500,90.5,categoryValues,categoryValues,categoryColors,{shadow:"#555",shadowOp:.6,sepW:1.1,rim:true,
  elbowR:[113,112,113,114,111,118],turn:[-5,5,0,-7,10.4,5],side:[1,1,1,-1,-1,-1],lead:[8,8.7,7,5,7,10],gap:[2,3,6,7,1,4]});
drawPie(600.7,501.5,90.8,statusDrawnShare,statusLabels,statusColors,{shadow:"#8a6f66",shadowOp:.45,sepW:.8,rim:false,
  elbowR:[111,120],turn:[-1,-1],side:[1,-1],lead:[8,9],gap:[2,7]});
</script></body></html>
